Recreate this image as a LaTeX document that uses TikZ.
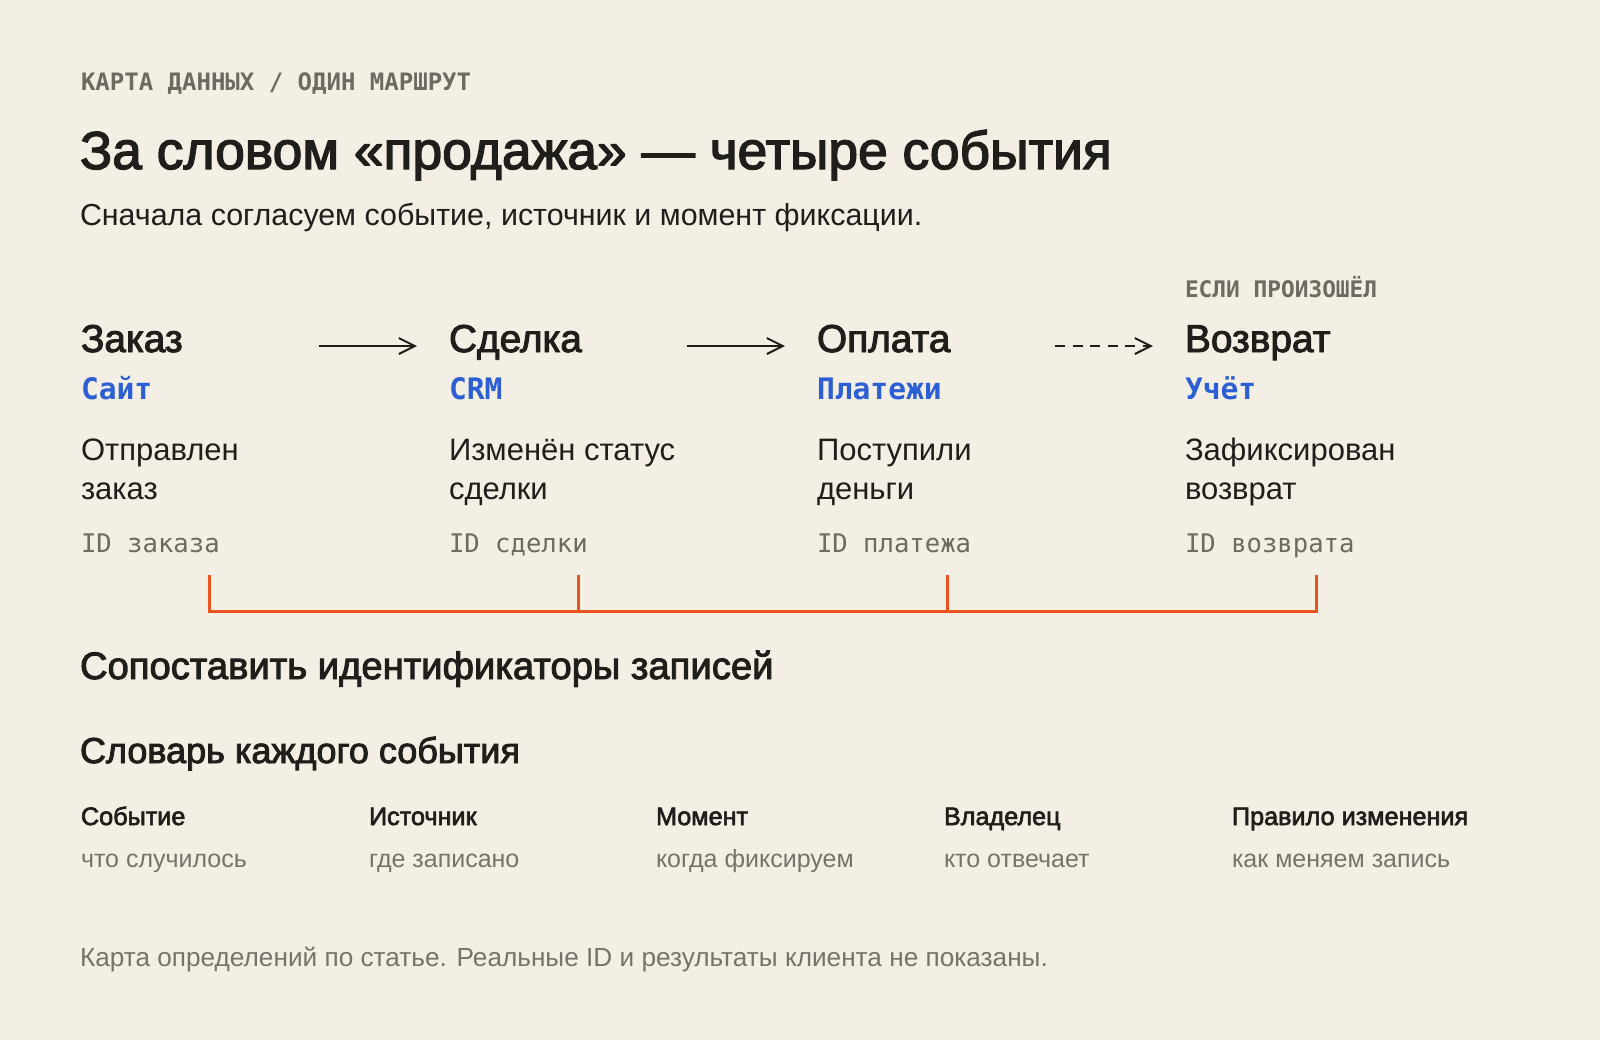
\documentclass[tikz,border=0pt]{standalone}
\usepackage{fontspec}
\setmainfont{Liberation Sans}
\setmonofont{DejaVu Sans Mono}
\newfontfamily\medfont[FakeBold=2.5]{Liberation Sans}
\usetikzlibrary{arrows.meta}
\definecolor{bg}{HTML}{F3EFE5}
\definecolor{ink}{HTML}{1F1E1B}
\definecolor{muted}{HTML}{6E6A61}
\definecolor{soft}{HTML}{77736A}
\definecolor{srcblue}{HTML}{2C5FD4}
\definecolor{brkorange}{HTML}{E9541E}
\begin{document}
\begin{tikzpicture}[x=0.5pt,y=-0.5pt,
  txt/.style={anchor=base west,inner sep=0pt,outer sep=0pt,text=ink},
  kicker/.style={txt,text=muted,font=\ttfamily\bfseries\fontsize{12}{14}\selectfont},
  titletxt/.style={txt,font=\medfont\fontsize{26.7}{32}\selectfont},
  subtxt/.style={txt,font=\fontsize{15.2}{18}\selectfont},
  evtitle/.style={txt,font=\medfont\fontsize{19.4}{23}\selectfont},
  evsrc/.style={txt,text=srcblue,font=\ttfamily\bfseries\fontsize{14.8}{17}\selectfont},
  evdesc/.style={txt,font=\fontsize{15.5}{19.5}\selectfont},
  evid/.style={txt,text=muted,font=\ttfamily\fontsize{12.8}{15}\selectfont},
  sechead/.style={txt,font=\medfont\fontsize{19.1}{23}\selectfont},
  sechead2/.style={txt,font=\medfont\fontsize{18}{22}\selectfont},
  collabel/.style={txt,font=\medfont\fontsize{12.6}{15}\selectfont},
  coldesc/.style={txt,text=soft,font=\fontsize{12.5}{15}\selectfont},
  foot/.style={txt,text=soft,font=\fontsize{13.1}{16}\selectfont},
  flow/.style={draw=ink,line width=1pt,-{Straight Barb[length=8pt,width=8pt,line width=1pt]}},
  flowdash/.style={flow,dash pattern=on 5pt off 3.75pt},
  brk/.style={draw=brkorange,line width=1.5pt,line join=miter}
]
\useasboundingbox[fill=bg] (0,0) rectangle (1600,1040);

% header
\node[kicker] (kick) at (81,90) {КАРТА ДАННЫХ / ОДИН МАРШРУТ};
\node[titletxt] (title) at (80,169) {За словом «продажа» — четыре события};
\node[subtxt] (sub) at (80,225) {Сначала согласуем событие, источник и момент фиксации.};

% optional label
\node[kicker,font=\ttfamily\bfseries\fontsize{11.4}{13}\selectfont] (ifany) at (1185,297) {ЕСЛИ ПРОИЗОШЁЛ};

% events
\node[evtitle] (e1) at (81,352) {Заказ};
\node[evtitle] (e2) at (449,352) {Сделка};
\node[evtitle] (e3) at (817,352) {Оплата};
\node[evtitle] (e4) at (1185,352) {Возврат};

\node[evsrc] (s1) at (81,399) {Сайт};
\node[evsrc] (s2) at (449,399) {CRM};
\node[evsrc] (s3) at (817,399) {Платежи};
\node[evsrc] (s4) at (1185,399) {Учёт};

\node[evdesc] (d1) at (81,460) {Отправлен};
\node[evdesc] (d1b) at (81,499) {заказ};
\node[evdesc] (d2) at (449,460) {Изменён статус};
\node[evdesc] (d2b) at (449,499) {сделки};
\node[evdesc] (d3) at (817,460) {Поступили};
\node[evdesc] (d3b) at (817,499) {деньги};
\node[evdesc] (d4) at (1185,460) {Зафиксирован};
\node[evdesc] (d4b) at (1185,499) {возврат};

\node[evid] (i1) at (81,552) {ID заказа};
\node[evid] (i2) at (449,552) {ID сделки};
\node[evid] (i3) at (817,552) {ID платежа};
\node[evid] (i4) at (1185,552) {ID возврата};

% arrows
\coordinate (a1s) at (319,346); \coordinate (a1e) at (417,346);
\coordinate (a2s) at (687,346); \coordinate (a2e) at (785,346);
\coordinate (a3s) at (1055,346); \coordinate (a3e) at (1153,346);
\draw[flow] (a1s) -- (a1e);
\draw[flow] (a2s) -- (a2e);
\draw[flowdash] (a3s) -- (a3e);

% bracket
\coordinate (b1t) at (209,575); \coordinate (b1b) at (209,611);
\coordinate (b2t) at (578,575); \coordinate (b2b) at (578,611);
\coordinate (b3t) at (947,575); \coordinate (b3b) at (947,611);
\coordinate (b4t) at (1316,575); \coordinate (b4b) at (1316,611);
\draw[brk] (b1t) -- (b1b) -- (b4b) -- (b4t);
\draw[brk] (b2t) -- (b2b);
\draw[brk] (b3t) -- (b3b);

% sections
\node[sechead] (match) at (80,679) {Сопоставить идентификаторы записей};
\node[sechead2] (dict) at (80,763) {Словарь каждого события};

\node[collabel] (c1) at (81,825) {Событие};
\node[collabel] (c2) at (369,825) {Источник};
\node[collabel] (c3) at (656,825) {Момент};
\node[collabel] (c4) at (944,825) {Владелец};
\node[collabel] (c5) at (1232,825) {Правило изменения};

\node[coldesc] (g1) at (81,867) {что случилось};
\node[coldesc] (g2) at (369,867) {где записано};
\node[coldesc] (g3) at (656,867) {когда фиксируем};
\node[coldesc] (g4) at (944,867) {кто отвечает};
\node[coldesc] (g5) at (1232,867) {как меняем запись};

\node[foot] (note) at (80,966) {Карта определений по статье. Реальные ID и результаты клиента не показаны.};
\end{tikzpicture}
\end{document}
